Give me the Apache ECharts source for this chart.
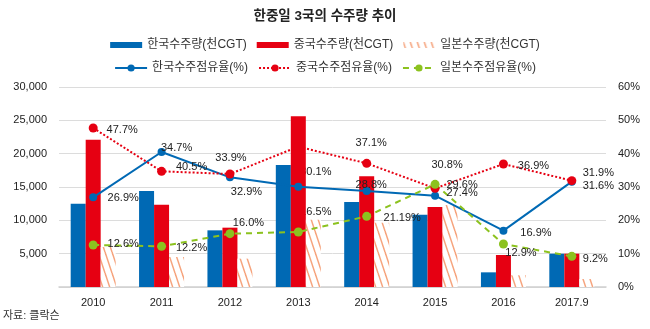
<!DOCTYPE html>
<html>
<head>
<meta charset="utf-8">
<script src="https://cdn.jsdelivr.net/npm/echarts@6/dist/echarts.min.js"></script>
<style>
  html, body { margin: 0; padding: 0; background: #fff; }
  #chart { width: 650px; height: 329px; }
</style>
</head>
<body>
<div id="chart"></div>
<script>
// Ship orders of Korea, China and Japan (thousand CGT) and their market shares (%)
const years = ['2010', '2011', '2012', '2013', '2014', '2015', '2016', '2017.9'];

const korVol = [12500, 14400, 8500, 18300, 12750, 10850, 2200, 5000];
const chnVol = [22100, 12350, 8900, 25600, 16600, 12000, 4800, 5000];
const jpnVol = [6000, 4500, 4250, 10100, 9650, 12300, 1750, 1200];

const korShare = [26.9, 40.5, 32.9, 30.1, 28.8, 27.4, 16.9, 31.6];
const chnShare = [47.7, 34.7, 33.9, 42.1, 37.1, 29.6, 36.9, 31.9];
const jpnShare = [12.6, 12.2, 16.0, 16.5, 21.19, 30.8, 12.9, 9.2];

const leftTicks = { min: 0, max: 30000, interval: 5000 };
const rightTicks = { min: 0, max: 60, interval: 10 };

const names = {
  korVol: '한국수주량(천CGT)', chnVol: '중국수주량(천CGT)', jpnVol: '일본수주량(천CGT)',
  korShare: '한국수주점유율(%)', chnShare: '중국수주점유율(%)', jpnShare: '일본수주점유율(%)'
};

// label offsets (px) from each point
const korOff = [[30, 1], [30, 15], [16.5, 15], [17.5, -15], [4.5, -6], [27, -3], [32.5, 2], [26.5, 4]];
const chnOff = [[29, 2], [15, -23], [1, -16], [0, -15], [4.5, -20], [27, -3.5], [30, 1.5], [26.5, -8]];
const jpnOff = [[30, -1], [30, 1.5], [18.5, -11], [17.5, -20], [35.5, 1.5], [12, -19.5], [17.5, 8.5], [23.5, 2.5]];

const FONT = "'Liberation Sans', 'Noto Sans CJK KR', sans-serif";
const BLUE = '#0069b4', RED = '#e60012', GREEN = '#8cc21f';

// white bar with orange diagonal hatching
function hatch() {
  const w = 7, h = 21;
  const c = document.createElement('canvas');
  c.width = w; c.height = h;
  const g = c.getContext('2d');
  g.fillStyle = '#ffffff';
  g.fillRect(0, 0, w, h);
  g.strokeStyle = '#f6a37c';
  g.lineWidth = 1.5;
  for (const dx of [-w, 0, w]) {
    g.beginPath();
    g.moveTo(dx, 0);
    g.lineTo(dx + w, h);
    g.stroke();
  }
  return { image: c, repeat: 'repeat' };
}

const fmt = v => (Math.abs(v * 10 - Math.round(v * 10)) < 1e-9 ? v.toFixed(1) : String(v)) + '%';

// labels of 2013 sit under the bars
const i13 = years.indexOf('2013');

function shareData(vals, offs) {
  return vals.map((v, i) => ({
    value: v,
    label: { offset: offs[i], show: i !== i13 }
  }));
}

const labelBase = {
  show: true, position: 'inside', color: '#222', fontSize: 11, fontFamily: FONT,
  textBorderWidth: 0, opacity: 1
};
const lineLabel = Object.assign({}, labelBase, { formatter: p => fmt(p.value) });

const chart = echarts.init(document.getElementById('chart'), null, { renderer: 'canvas' });

const legendText = { fontSize: 12, color: '#333', fontFamily: FONT };

chart.setOption({
  animation: false,
  backgroundColor: '#fff',
  title: {
    text: '한중일 3국의 수주량 추이',
    left: 'center', top: 5,
    textStyle: { fontSize: 13.5, fontWeight: 'bold', color: '#222', fontFamily: FONT }
  },
  legend: [
    {
      data: [names.korVol, names.chnVol, names.jpnVol],
      top: 34, left: 'center', itemWidth: 32, itemHeight: 6, itemGap: 10,
      icon: 'rect', textStyle: legendText
    },
    {
      data: [names.korShare, names.chnShare, names.jpnShare],
      top: 57, left: 'center', itemWidth: 32, itemHeight: 9, itemGap: 10,
      textStyle: legendText
    }
  ],
  grid: { left: 59, right: 44, top: 87, bottom: 42 },
  xAxis: {
    type: 'category', data: years,
    axisTick: { show: false },
    axisLine: { lineStyle: { color: '#d0d0d0', width: 1.5 } },
    axisLabel: { margin: 10, fontSize: 11, color: '#222', fontFamily: FONT }
  },
  yAxis: [
    {
      type: 'value', ...leftTicks,
      axisLine: { show: false }, axisTick: { show: false },
      axisLabel: {
        margin: 12, fontSize: 11, color: '#222', fontFamily: FONT,
        formatter: v => (v === 0 ? '' : v.toLocaleString('en-US'))
      },
      splitLine: { lineStyle: { color: '#dcdcdc', width: 1 } }
    },
    {
      type: 'value', ...rightTicks,
      axisLine: { show: false }, axisTick: { show: false },
      axisLabel: { margin: 12, fontSize: 11, color: '#222', fontFamily: FONT, formatter: '{value}%' },
      splitLine: { show: false }
    }
  ],
  series: [
    { name: names.korVol, type: 'bar', data: korVol, barWidth: 15, barGap: '0%', z: 2,
      itemStyle: { color: BLUE } },
    { name: names.chnVol, type: 'bar', data: chnVol, barWidth: 15, barGap: '0%', z: 2,
      itemStyle: { color: RED } },
    { name: names.jpnVol, type: 'bar', data: jpnVol, barWidth: 15, barGap: '0%', z: 2,
      itemStyle: { color: hatch() } },
    { name: names.korShare, type: 'line', yAxisIndex: 1, z: 3,
      data: shareData(korShare, korOff),
      symbol: 'circle', symbolSize: 8,
      itemStyle: { color: BLUE }, lineStyle: { color: BLUE, width: 2 },
      label: lineLabel },
    { name: names.chnShare, type: 'line', yAxisIndex: 1, z: 3,
      data: shareData(chnShare, chnOff),
      symbol: 'circle', symbolSize: 9,
      itemStyle: { color: RED }, lineStyle: { color: RED, width: 2, type: [2, 2] },
      label: lineLabel },
    { name: names.jpnShare, type: 'line', yAxisIndex: 1, z: 3,
      data: shareData(jpnShare, jpnOff),
      symbol: 'circle', symbolSize: 9,
      itemStyle: { color: GREEN }, lineStyle: { color: GREEN, width: 2, type: [6, 5] },
      label: lineLabel },
    // 2013 share labels drawn beneath the bars
    { type: 'scatter', yAxisIndex: 1, z: 1, silent: true,
      symbolSize: 2, itemStyle: { color: 'rgba(0,0,0,0)' },
      emphasis: { disabled: true },
      data: [
        { value: [years[i13], korShare[i13]], label: { offset: korOff[i13] } },
        { value: [years[i13], jpnShare[i13]], label: { offset: jpnOff[i13] } }
      ],
      label: Object.assign({}, labelBase, { formatter: p => fmt(p.value[1]) }) }
  ],
  graphic: [
    { type: 'text', left: 3, top: 310,
      style: { text: '자료: 클락슨', fontSize: 11, fill: '#333', fontFamily: FONT } }
  ]
});
</script>
</body>
</html>
